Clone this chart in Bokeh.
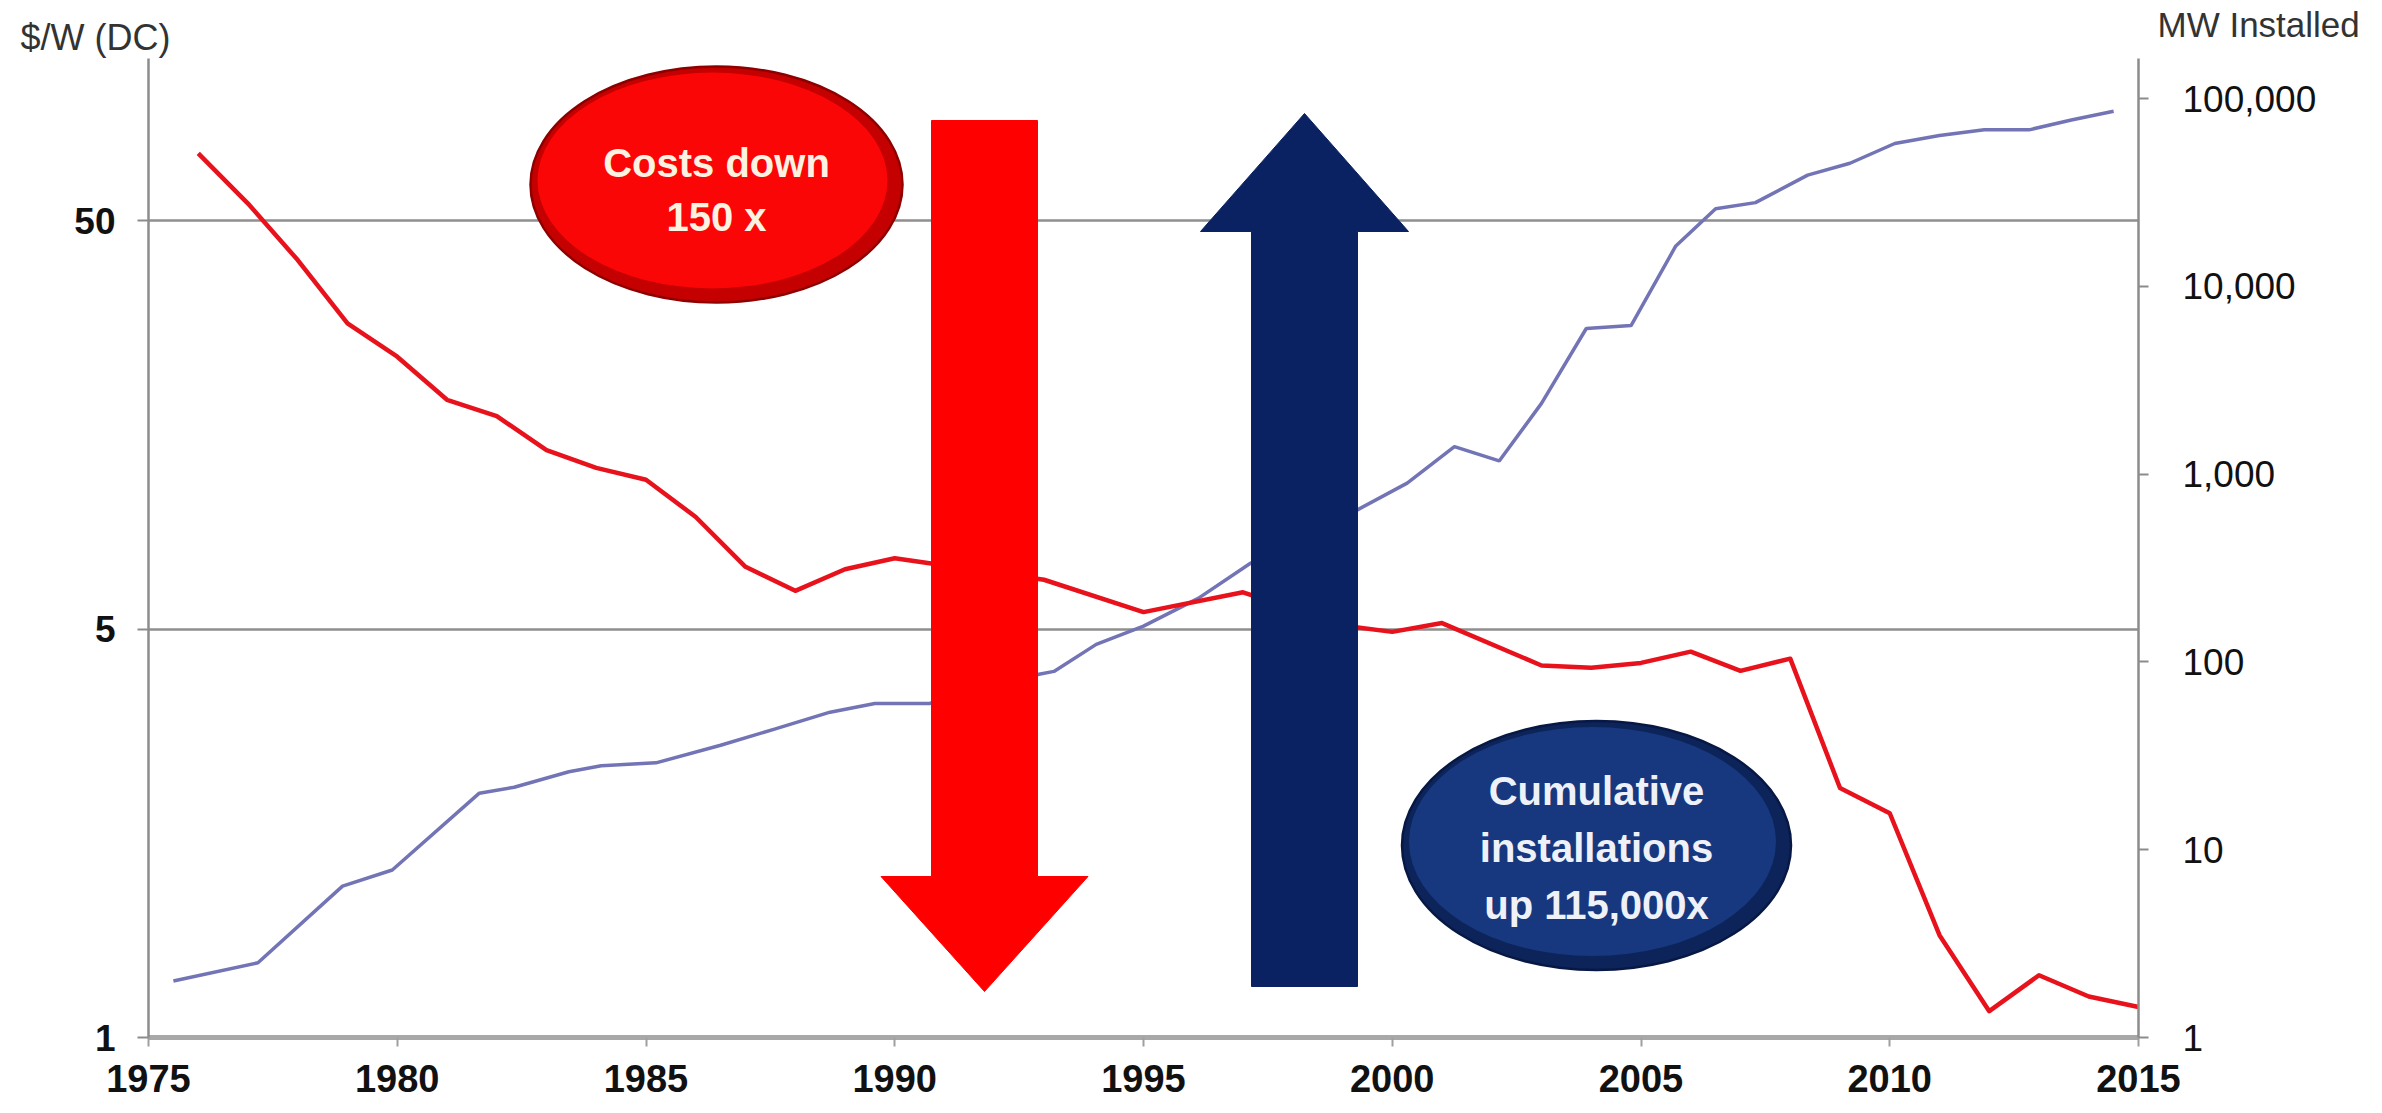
from bokeh.plotting import figure
from bokeh.layouts import column
from bokeh.models import (Range1d, LogScale, LinearScale, LogAxis, LinearAxis,
                          FixedTicker, Label, Grid)
from bokeh.embed import file_html
from bokeh.resources import INLINE

# ---- data -------------------------------------------------------------
# PV module price, $/W (DC)
cost_years = [1976, 1977, 1978, 1979, 1980, 1981, 1982, 1983, 1984, 1985,
              1986, 1987, 1988, 1989, 1990, 1993, 1995, 1997, 1999, 2000,
              2001, 2003, 2004, 2005, 2006, 2007, 2008, 2009, 2010, 2011,
              2012, 2013, 2014, 2015]
cost_usd_w = [73, 55, 40, 28, 23.2, 18.2, 16.6, 13.7, 12.4, 11.6,
              9.4, 7.1, 6.2, 7.0, 7.45, 6.6, 5.5, 6.15, 5.1, 4.92,
              5.17, 4.07, 4.02, 4.13, 4.4, 3.95, 4.23, 2.04, 1.77, 0.89,
              0.58, 0.71, 0.63, 0.594]

# Cumulative installed capacity, MW
mw_years = [1975.5, 1977.2, 1978.9, 1979.9, 1981.65, 1982.35, 1983.45, 1984.1,
            1985.2, 1986.5, 1987.6, 1988.7, 1989.6, 1990.7, 1992.9, 1993.2,
            1994.05, 1995.0, 1996.1, 1997.15, 1999.3, 2000.3, 2001.25, 2002.15,
            2003.0, 2003.9, 2004.8, 2005.7, 2006.5, 2007.3, 2008.35, 2009.2,
            2010.1, 2011.0, 2011.9, 2012.8, 2013.65, 2014.5]
mw_installed = [2.0, 2.5, 6.4, 7.8, 20, 21.5, 26, 28,
                29, 36, 44, 54, 60, 60, 86, 89,
                124, 155, 218, 335, 645, 895, 1400, 1175,
                2380, 5960, 6180, 16400, 25900, 27900, 39100, 45200,
                57600, 63500, 68100, 68100, 76900, 85600]

year_ticks = [1975, 1980, 1985, 1990, 1995, 2000, 2005, 2010, 2015]
cost_ticks = [0.5, 5, 50]
cost_tick_labels = ["1", "5", "50"]          # lowest line is labelled 1
mw_ticks = [1, 10, 100, 1000, 10000, 100000]
mw_tick_labels = ["1", "10", "100", "1,000", "10,000", "100,000"]

cost_title = "$/W (DC)"
mw_title = "MW Installed"

# ---- geometry ---------------------------------------------------------
W, H = 2382, 1113
HEADER_H = 58
B_LEFT, B_RIGHT, B_BOTTOM = 148, 244, 76
MAIN_H = H - HEADER_H
FW, FH = W - B_LEFT - B_RIGHT, MAIN_H - B_BOTTOM
COST_PX_PER_DECADE = 408.5
MW_PX_PER_DECADE = 187.8

FONT = "Liberation Sans"
TITLE_GREY = "#333333"

# ---- header strip: the two axis titles sit in its side panels ------------
head = figure(width=W, height=HEADER_H, output_backend="svg", toolbar_location=None,
              x_axis_location=None, y_axis_location=None,
              x_range=Range1d(0, 1), y_range=Range1d(0, HEADER_H),
              min_border=0, background_fill_color="white", border_fill_color="white")
head.outline_line_color = None
for obj in head.center:
    if isinstance(obj, Grid):
        obj.visible = False


def title_axis(tick_y, text, standoff, size):
    ax = LinearAxis(ticker=FixedTicker(ticks=[tick_y]),
                    major_label_overrides={tick_y: text})
    ax.axis_line_color = None
    ax.major_tick_line_color = None
    ax.minor_tick_line_color = None
    ax.major_tick_in = 0
    ax.major_tick_out = 0
    ax.major_label_standoff = standoff
    ax.major_label_text_font = FONT
    ax.major_label_text_font_size = size
    ax.major_label_text_color = TITLE_GREY
    return ax


head.add_layout(title_axis(21, cost_title, -22, "36px"), "left")
head.add_layout(title_axis(34, mw_title, 19, "35px"), "right")

# ---- main chart ----------------------------------------------------------
p = figure(width=W, height=MAIN_H, output_backend="svg", toolbar_location=None,
           x_range=Range1d(1975, 2015),
           y_axis_type="log",
           y_range=Range1d(0.5, 0.5 * 10 ** (FH / COST_PX_PER_DECADE)),
           min_border_left=B_LEFT, min_border_right=B_RIGHT,
           min_border_top=0, min_border_bottom=B_BOTTOM,
           background_fill_color="white", border_fill_color="white")
p.outline_line_color = None

# secondary log range for MW, plus pixel-like ranges for the callouts
p.extra_y_ranges = {"mw": Range1d(1, 10 ** (FH / MW_PX_PER_DECADE)),
                    "px": Range1d(0, FH)}
p.extra_y_scales = {"mw": LogScale(), "px": LinearScale()}
p.extra_x_ranges = {"px": Range1d(0, FW)}
p.extra_x_scales = {"px": LinearScale()}

# ---- axes -------------------------------------------------------------
AX_GREY = "#8c8c8c"
xa = p.xaxis[0]
xa.ticker = FixedTicker(ticks=year_ticks)
xa.axis_line_color = "#a8a8a8"
xa.axis_line_width = 5
xa.major_tick_line_color = "#a0a0a0"
xa.major_tick_line_width = 2
xa.major_tick_in = 0
xa.major_tick_out = 9
xa.minor_tick_line_color = None
xa.major_label_text_font = FONT
xa.major_label_text_font_style = "bold"
xa.major_label_text_font_size = "38px"
xa.major_label_text_color = "#111111"
xa.major_label_standoff = 18

ya = p.yaxis[0]
ya.ticker = FixedTicker(ticks=cost_ticks)
ya.major_label_overrides = dict(zip(cost_ticks, cost_tick_labels))
ya.axis_line_color = AX_GREY
ya.axis_line_width = 2.5
ya.major_tick_line_color = AX_GREY
ya.major_tick_line_width = 2
ya.major_tick_in = 0
ya.major_tick_out = 11
ya.minor_tick_line_color = None
ya.major_label_text_font = FONT
ya.major_label_text_font_style = "bold"
ya.major_label_text_font_size = "37px"
ya.major_label_text_color = "#111111"
ya.major_label_standoff = 22

ra = LogAxis(y_range_name="mw", ticker=FixedTicker(ticks=mw_ticks))
ra.major_label_overrides = dict(zip(mw_ticks, mw_tick_labels))
ra.axis_line_color = AX_GREY
ra.axis_line_width = 2.5
ra.major_tick_line_color = AX_GREY
ra.major_tick_line_width = 2
ra.major_tick_in = 0
ra.major_tick_out = 10
ra.minor_tick_line_color = None
ra.major_label_text_font = FONT
ra.major_label_text_font_size = "37px"
ra.major_label_text_color = "#111111"
ra.major_label_standoff = 34
p.add_layout(ra, "right")

p.xgrid.grid_line_color = None
p.ygrid.ticker = FixedTicker(ticks=[5, 50])
p.ygrid.grid_line_color = "#8f8f8f"
p.ygrid.grid_line_width = 2.5

# ---- series -----------------------------------------------------------
p.line(mw_years, mw_installed, y_range_name="mw",
       line_color="#7274b6", line_width=3.5)
p.line(cost_years, cost_usd_w, line_color="#e8121c", line_width=4.5,
       line_join="round")

# ---- callout arrows ---------------------------------------------------
def arrow(cx, shaft_w, head_w, y_tail, y_base, y_tip):
    s0, s1 = cx - shaft_w / 2, cx + shaft_w / 2
    h0, h1 = cx - head_w / 2, cx + head_w / 2
    xs = [s0, s1, s1, h1, cx, h0, s0]
    ys = [y_tail, y_tail, y_base, y_base, y_tip, y_base, y_base]
    return xs, ys

rx, ry = arrow(836, 106, 207, 917, 161, 46)
p.patch(rx, ry, x_range_name="px", y_range_name="px",
        fill_color="#ff0000", line_color="#ff0000", line_width=1)
nx, ny = arrow(1156, 106, 208, 51, 806, 924)
p.patch(nx, ny, x_range_name="px", y_range_name="px",
        fill_color="#0a2262", line_color="#0a2262", line_width=1)

# ---- callout bubbles (darker rim + lighter face) -------------------------
def bubble(cx, cy, w, h, rim, face, edge):
    p.ellipse(x=[cx], y=[cy], width=[w], height=[h],
              x_range_name="px", y_range_name="px",
              fill_color=rim, line_color=edge, line_width=2.5)
    p.ellipse(x=[cx - 4], y=[cy + 4], width=[w - 22], height=[h - 20],
              x_range_name="px", y_range_name="px",
              fill_color=face, line_color=None)

bubble(568, 853, 372, 236, "#c40000", "#fb0606", "#8e0000")
bubble(1448, 192, 389, 249, "#0c2459", "#17387e", "#081844")


def bubble_text(lines, cx, cy, step, color):
    n = len(lines)
    for i, t in enumerate(lines):
        y = cy + (n - 1) * step / 2 - i * step
        p.add_layout(Label(x=cx, y=y, text=t, x_range_name="px", y_range_name="px",
                           text_align="center", text_baseline="middle",
                           text_font=FONT, text_font_style="bold",
                           text_font_size="40px", text_color=color))

bubble_text(["Costs down", "150 x"], 568, 848, 54, "#fbf2e2")
bubble_text(["Cumulative", "installations", "up 115,000x"], 1448, 190, 57, "#eef1f8")

layout = column(head, p, spacing=0)
open("out.html", "w").write(file_html(layout, INLINE))
